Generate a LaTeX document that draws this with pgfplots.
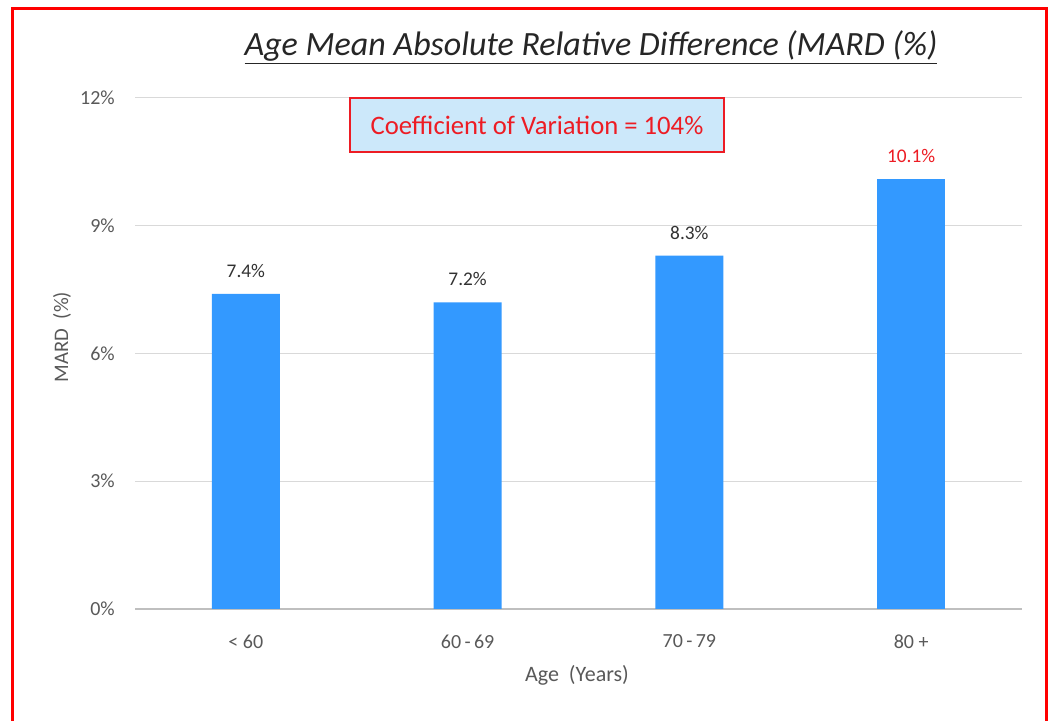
\documentclass[border=0pt]{standalone}
\usepackage{pgfplots}
\pgfplotsset{compat=1.18}
\usepackage{fontspec}
\setmainfont{Carlito}
\definecolor{barblue}{RGB}{51,153,255}
\definecolor{tickgray}{RGB}{89,89,89}
\definecolor{labgray}{RGB}{50,50,50}
\definecolor{gridgray}{RGB}{217,217,217}
\definecolor{boxblue}{RGB}{204,232,250}
\definecolor{cvred}{RGB}{237,28,36}
\begin{document}
\begin{tikzpicture}
\begin{scope}[x=0.75pt,y=0.75pt]
\useasboundingbox (0,0) rectangle (1052,711);
\fill[white] (0,0) rectangle (1052,711);
\end{scope}
\begin{axis}[
  at={(101.25pt,76.5pt)}, anchor=south west,
  scale only axis, width=665.25pt, height=383.25pt,
  xmin=-0.5, xmax=3.5, ymin=0, ymax=12,
  ybar, bar width=51pt,
  xtick={0,1,2,3}, xticklabels={{< 60},{60{\,}-{\,}69},{70{\,}-{\,}79},{80 +}},
  ytick={0,3,6,9,12},
  yticklabel={\pgfmathprintnumber{\tick}\%},
  /pgf/number format/assume math mode=true,
  axis x line*=bottom, axis y line*=left,
  y axis line style={draw=none},
  x axis line style={draw={rgb,255:red,191;green,191;blue,191}, line width=1pt},
  major tick length=0pt,
  ymajorgrids, grid style={gridgray, line width=0.75pt},
  ticklabel style={font=\fontsize{15}{17}\selectfont, text=tickgray},
  yticklabel style={anchor=east, inner sep=0pt, xshift=-15pt},
  xticklabel style={anchor=north, inner sep=0pt, yshift=-19pt},
  nodes near coords={\pgfmathprintnumber[fixed,fixed zerofill,precision=1]{\pgfplotspointmeta}\%},
  nodes near coords style={font=\fontsize{14.5}{16}\selectfont, text=labgray, anchor=south, inner sep=0pt, yshift=12pt},
  clip=false,
]
\addplot[fill=barblue, draw=none, bar shift=0pt] coordinates {(0,7.4) (1,7.2) (2,8.3)};
\addplot[fill=barblue, draw=none, bar shift=0pt, nodes near coords style={text=cvred}] coordinates {(3,10.1)};
\end{axis}
\begin{scope}[x=0.75pt,y=0.75pt]
\node[font=\fontsize{25.5}{28}\selectfont\itshape, text={rgb,255:red,38;green,38;blue,38}] at (591,664) {\underline{Age Mean Absolute Relative Difference (MARD (\%)}};
\node[draw=cvred, line width=1.2pt, fill=boxblue, minimum width=280.5pt, minimum height=40.5pt, inner sep=0pt, font=\fontsize{20}{22}\selectfont, text=cvred] at (537,586) {Coefficient of Variation = 104\%};
\node[font=\fontsize{16.5}{18}\selectfont, text=tickgray] at (577,36) {Age\ \ (Years)};
\node[font=\fontsize{15.5}{18}\selectfont, text=tickgray, rotate=90] at (62,374) {MARD\ \ (\%)};
\draw[red, line width=2.25pt] (12,-10) -- (12,702) -- (1046,702) -- (1046,-10);
\end{scope}
\end{tikzpicture}
\end{document}
